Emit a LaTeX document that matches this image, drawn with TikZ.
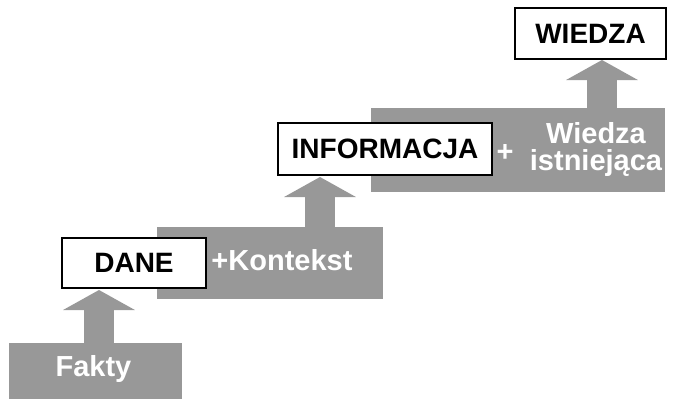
\documentclass[tikz,border=0pt]{standalone}
\usepackage{fontspec}
\setmainfont{Liberation Sans}
\usetikzlibrary{arrows.meta}
\definecolor{blockgray}{RGB}{152,152,152}
\tikzset{
  graybox/.style={rectangle, fill=blockgray, draw=none, inner sep=0pt},
  whitebox/.style={rectangle, fill=white, draw=black, line width=1.5pt, inner sep=0pt,
    font=\fontsize{28}{30}\selectfont\bfseries},
  graytext/.style={text=white, inner sep=0pt, align=center,
    font=\fontsize{29}{27}\selectfont\bfseries},
  blockarrow/.style={draw=blockgray, line width=30pt, line cap=butt,
    -{Triangle[width=71pt,length=20pt]}, shorten >=0pt}
}
\begin{document}
\begin{tikzpicture}[x=1pt,y=-1pt]
\useasboundingbox (0,0) rectangle (673,399);
% gray blocks
\node[graybox, minimum width=173pt, minimum height=56pt] (fakty) at (95.5,371) {};
\node[graybox, minimum width=226pt, minimum height=72pt] (kontekst) at (270,263) {};
\node[graybox, minimum width=294pt, minimum height=84pt] (istn) at (518,150) {};
% texts on gray blocks
\node[graytext] (faktyt) at (93.5,369) {Fakty};
\node[graytext] (kontekstt) at (282,260) {+Kontekst};
\node[graytext] (plus) at (505,153) {+};
\node[graytext] (wiedzat) at (596,149) {Wiedza\\istniejąca};
% white boxes
\node[whitebox, minimum width=144pt, minimum height=50pt] (dane) at (134,263) {DANE};
\node[whitebox, minimum width=214pt, minimum height=52pt] (info) at (385,149) {INFORMACJA};
\node[whitebox, minimum width=151pt, minimum height=51pt] (wiedza) at (590.5,33.5) {WIEDZA};
% arrows
\coordinate (a1s) at (99,343);
\coordinate (a1e) at (99,290);
\coordinate (a2s) at (320,227);
\coordinate (a2e) at (320,177);
\coordinate (a3s) at (602,108);
\coordinate (a3e) at (602,60);
\draw[blockarrow] (a1s) -- (a1e);
\draw[blockarrow] (a2s) -- (a2e);
\draw[blockarrow] (a3s) -- (a3e);
\end{tikzpicture}
\end{document}
